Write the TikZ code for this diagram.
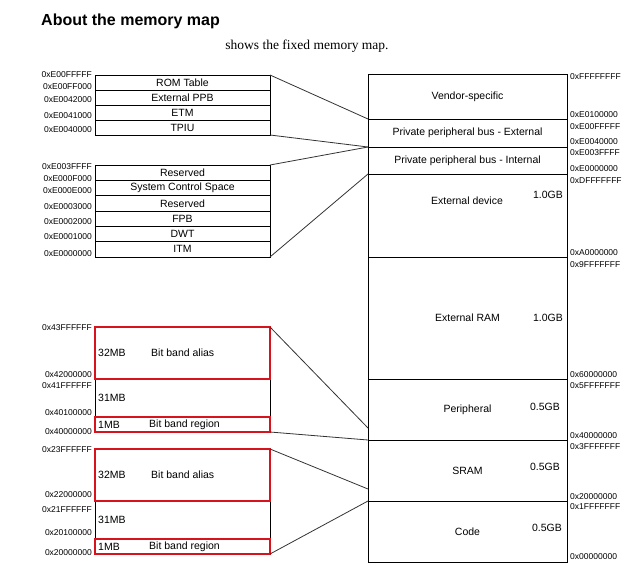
\documentclass[tikz,border=0pt]{standalone}
\usepackage{fontspec}
\setmainfont{Liberation Sans}
\newfontfamily\serifpart{Liberation Serif}
\usetikzlibrary{positioning}
\definecolor{bbred}{RGB}{215,20,30}
\tikzset{
  cell/.style={draw,rectangle,inner sep=0pt,outer sep=0pt,line width=0.8pt,font={\fontsize{10.5}{12}\selectfont}},
  lcell/.style={cell,minimum width=175pt},
  rcell/.style={cell,minimum width=199pt},
  bbcell/.style={lcell,draw=none},
  bbframe/.style={draw=bbred,line width=1.3pt},
  addr/.style={inner sep=0pt,font={\fontsize{8.5}{10}\selectfont}},
  txt/.style={inner sep=0pt,font={\fontsize{10.5}{12}\selectfont}},
  conn/.style={line width=0.8pt,black!80}
}
\begin{document}
\begin{tikzpicture}[x=1pt,y=-1pt]
  \useasboundingbox (0,0) rectangle (626,569);
  \node[anchor=west,inner sep=0pt,font={\fontsize{16}{18}\selectfont\bfseries}] (title) at (41,21) {About the memory map};
  \node[inner sep=0pt,font={\serifpart\fontsize{13.5}{15}\selectfont}] (caption) at (307,46) {shows the fixed memory map.};
  % private peripheral bus - external
  \node[lcell,minimum height=15pt,anchor=north] (romtbl) at (182.5,75) {ROM Table};
  \node[lcell,minimum height=15pt,below=0pt of romtbl] (extppb) {External PPB};
  \node[lcell,minimum height=15pt,below=0pt of extppb] (etm) {ETM};
  \node[lcell,minimum height=15pt,below=0pt of etm] (tpiu) {TPIU};
  % private peripheral bus - internal
  \node[lcell,minimum height=15.33pt,anchor=north] (rsvtop) at (182.5,165) {Reserved};
  \node[lcell,minimum height=15.33pt,below=0pt of rsvtop] (scs) {System Control Space};
  \node[lcell,minimum height=15.33pt,below=0pt of scs] (rsvlow) {Reserved};
  \node[lcell,minimum height=15.33pt,below=0pt of rsvlow] (fpb) {FPB};
  \node[lcell,minimum height=15.33pt,below=0pt of fpb] (dwt) {DWT};
  \node[lcell,minimum height=15.33pt,below=0pt of dwt] (itm) {ITM};
  % bit band, peripheral
  \node[lcell,minimum height=38pt,anchor=north] (gapP) at (182.5,379) {};
  \node[bbcell,minimum height=52pt,above=0pt of gapP] (aliasP) {};
  \node[bbcell,minimum height=15pt,below=0pt of gapP] (regionP) {};
  % bit band, SRAM
  \node[lcell,minimum height=38pt,anchor=north] (gapS) at (182.5,501) {};
  \node[bbcell,minimum height=52pt,above=0pt of gapS] (aliasS) {};
  \node[bbcell,minimum height=15pt,below=0pt of gapS] (regionS) {};
  \foreach \c in {P,S}{
    \draw[bbframe] (alias\c.north west) rectangle (alias\c.south east);
    \draw[bbframe] (region\c.north west) rectangle (region\c.south east);
    \node[txt,anchor=west] (szA\c) at ([xshift=3pt]alias\c.west) {32MB};
    \node[txt,anchor=west] (nmA\c) at ([xshift=56pt]alias\c.west) {Bit band alias};
    \node[txt,anchor=west] (szG\c) at ([xshift=3pt]gap\c.west) {31MB};
    \node[txt,anchor=west] (szR\c) at ([xshift=3pt]region\c.west) {1MB};
    \node[txt,anchor=west] (nmR\c) at ([xshift=54pt]region\c.west) {Bit band region};
  }
  % full memory map
  \node[rcell,minimum height=45pt,anchor=north] (vendor) at (467.5,74) {Vendor-specific};
  \node[rcell,minimum height=28pt,below=0pt of vendor] (ppbext) {Private peripheral bus - External};
  \node[rcell,minimum height=27pt,below=0pt of ppbext] (ppbint) {Private peripheral bus - Internal};
  \node[rcell,minimum height=83pt,below=0pt of ppbint] (extdev) {};
  \node[rcell,minimum height=122pt,below=0pt of extdev] (extram) {External RAM};
  \node[rcell,minimum height=61pt,below=0pt of extram] (periph) {Peripheral};
  \node[rcell,minimum height=61pt,below=0pt of periph] (sram) {SRAM};
  \node[rcell,minimum height=61pt,below=0pt of sram] (code) {Code};
  \node[txt] (extdevtxt) at (467,201) {External device};
  \node[txt] (gbextdev) at (548,195) {1.0GB};
  \node[txt] (gbextram) at (548,318) {1.0GB};
  \node[txt] (gbperiph) at (545,407) {0.5GB};
  \node[txt] (gbsram) at (545,467) {0.5GB};
  \node[txt] (gbcode) at (547,528) {0.5GB};
  % addresses
  \foreach \y/\a in {75/0xE00FFFFF,87/0xE00FF000,100/0xE0042000,116/0xE0041000,130/0xE0040000,
      167/0xE003FFFF,179/0xE000F000,191/0xE000E000,207/0xE0003000,222/0xE0002000,237/0xE0001000,254/0xE0000000,
      328/0x43FFFFFF,375/0x42000000,386/0x41FFFFFF,413/0x40100000,432/0x40000000,
      450/0x23FFFFFF,495/0x22000000,510/0x21FFFFFF,533/0x20100000,553/0x20000000}
    \node[addr,anchor=east] (addrL\y) at (92,\y) {\a};
  \foreach \y/\a in {77/0xFFFFFFFF,115/0xE0100000,127/0xE00FFFFF,142/0xE0040000,153/0xE003FFFF,169/0xE0000000,
      181/0xDFFFFFFF,253/0xA0000000,265/0x9FFFFFFF,375/0x60000000,386/0x5FFFFFFF,436/0x40000000,
      447/0x3FFFFFFF,497/0x20000000,507/0x1FFFFFFF,557/0x00000000}
    \node[addr,anchor=west] (addrR\y) at (570,\y) {\a};
  % zoom lines
  \coordinate (aliasPend) at (368,428);
  \coordinate (aliasSend) at (368,489);
  \draw[conn] (romtbl.north east) -- (ppbext.north west);
  \draw[conn] (tpiu.south east) -- (ppbint.north west);
  \draw[conn] (rsvtop.north east) -- (ppbint.north west);
  \draw[conn] (itm.south east) -- (extdev.north west);
  \draw[conn] (aliasP.north east) -- (aliasPend);
  \draw[conn] (regionP.south east) -- (periph.south west);
  \draw[conn] (aliasS.north east) -- (aliasSend);
  \draw[conn] (regionS.south east) -- (sram.south west);
\end{tikzpicture}
\end{document}
